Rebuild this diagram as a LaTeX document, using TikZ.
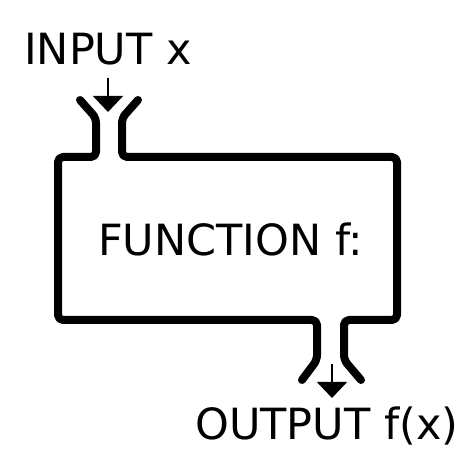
\documentclass[tikz,border=0pt]{standalone}
\usepackage{fontspec}
\setmainfont{DejaVu Sans}
\usepackage{tikz}
\usetikzlibrary{arrows.meta,positioning,calc}
\tikzset{
fnlabel/.style={font=\fontsize{43}{50}\selectfont,inner sep=0pt,anchor=base west},
fnwall/.style={line width=8pt,line cap=round,line join=round,rounded corners=5pt},
fnarr/.style={-{Triangle[width=30pt,length=16pt]},line width=1.6pt}
}
\begin{document}
\begin{tikzpicture}[
x=1pt,
y=-1pt
]
\useasboundingbox (0,0) rectangle (467,462);
\node[fnlabel] (inlabel) at (24,65) {INPUT x};
\node[fnlabel] (fnname) at (98,256) {FUNCTION f:};
\node[fnlabel] (outlabel) at (195,440) {OUTPUT f(x)};
\coordinate (intop) at (108,78);
\coordinate (intip) at (108,112);
\coordinate (outtop) at (332,364);
\coordinate (outtip) at (332,398);
% outline of the machine, left and right halves
\draw[fnwall] (80,100) -- (96,118) -- (96,157) -- (58,157) -- (58,320)
  -- (317,320) -- (317,360) -- (302,380);
\draw[fnwall] (138,100) -- (122,118) -- (122,157) -- (397,157) -- (397,320)
  -- (344,320) -- (344,360) -- (361,380);
\draw[fnarr] (intop) -- (intip);
\draw[fnarr] (outtop) -- (outtip);
\end{tikzpicture}
\end{document}
